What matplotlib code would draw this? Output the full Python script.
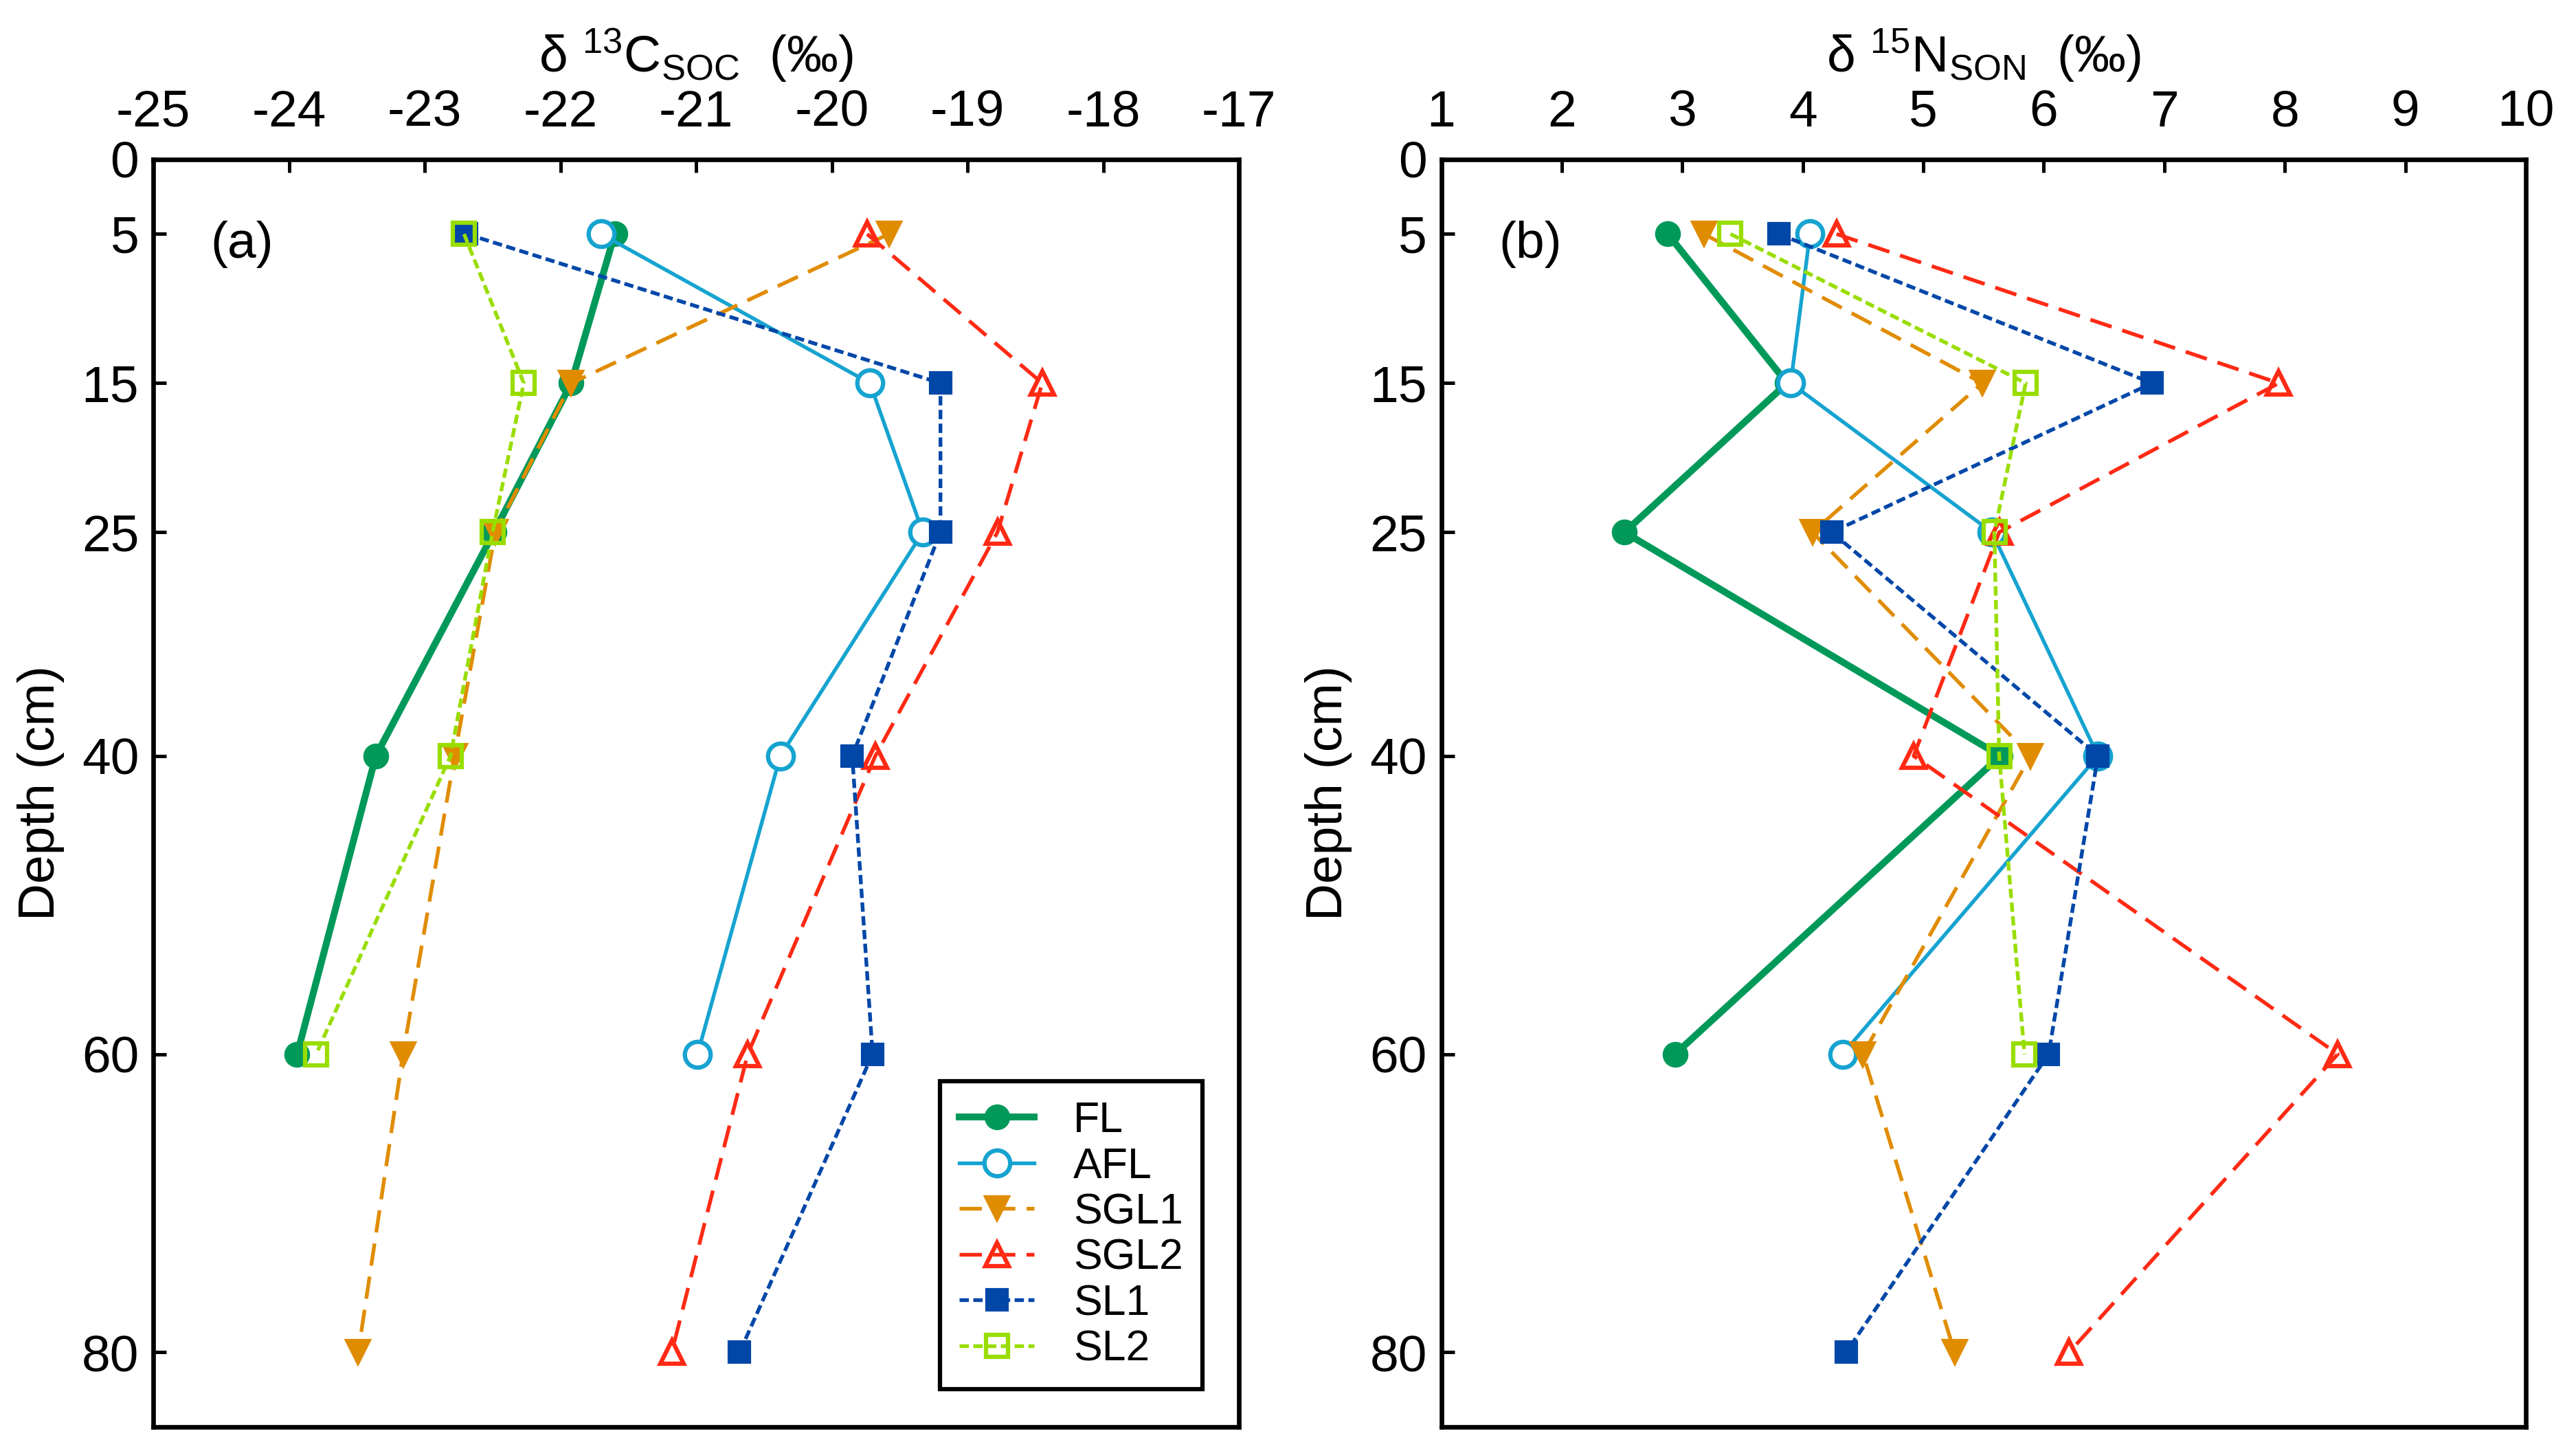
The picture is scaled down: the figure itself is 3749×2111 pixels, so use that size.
import numpy as np
from matplotlib import pyplot as plt
from matplotlib import font_manager

# depth of each sampling layer (cm)
depth = [5, 15, 25, 40, 60, 80]
depth_short = [5, 15, 25, 40, 60]

# (a) delta 13C of SOC (permil)
c_fl = [-21.60, -21.92, -22.49, -23.36, -23.94]
c_afl = [-21.70, -19.72, -19.33, -20.38, -20.99]
c_sgl1 = [-19.58, -21.92, -22.48, -22.78, -23.16, -23.49]
c_sgl2 = [-19.74, -18.45, -18.78, -19.68, -20.62, -21.18]
c_sl1 = [-22.69, -19.20, -19.20, -19.85, -19.70, -20.68]
c_sl2 = [-22.71, -22.27, -22.50, -22.81, -23.80]

# (b) delta 15N of SON (permil)
n_fl = [2.88, 3.87, 2.52, 5.64, 2.94]
n_afl = [4.06, 3.90, 5.57, 6.45, 4.33]
n_sgl1 = [3.18, 5.49, 4.08, 5.89, 4.50, 5.26]
n_sgl2 = [4.28, 7.95, 5.63, 4.92, 8.44, 6.21]
n_sl1 = [3.80, 6.90, 4.24, 6.45, 6.04, 4.36]
n_sl2 = [3.40, 5.85, 5.59, 5.63, 5.84]

names = ['FL', 'AFL', 'SGL1', 'SGL2', 'SL1', 'SL2']
yticks = [0, 5, 15, 25, 40, 60, 80]
xticks_a = [-25, -24, -23, -22, -21, -20, -19, -18, -17]
xticks_b = [1, 2, 3, 4, 5, 6, 7, 8, 9, 10]

installed = {f.name for f in font_manager.fontManager.ttflist}
NARROW = ['Liberation Sans Narrow', 'Liberation Sans', 'DejaVu Sans'] if 'Liberation Sans Narrow' in installed \
    else ['Liberation Sans', 'DejaVu Sans']
plt.rcParams['font.family'] = NARROW
plt.rcParams['mathtext.default'] = 'regular'
plt.rcParams['axes.unicode_minus'] = False

styles = [
    dict(color='#00995a', ls='-', lw=2.4, marker='o', ms=8, mfc='#00995a', mec='#00995a'),
    dict(color='#16a3d0', ls='-', lw=1.3, marker='o', ms=9, mfc='white', mec='#16a3d0', mew=1.5),
    dict(color='#e08c00', ls=(0, (6, 3)), lw=1.3, marker='v', ms=8, mfc='#e08c00', mec='#e08c00'),
    dict(color='#ff2a14', ls=(0, (6, 3)), lw=1.3, marker='^', ms=8, mfc='none', mec='#ff2a14', mew=1.5),
    dict(color='#0047a8', ls=(0, (2.5, 1.2)), lw=1.3, marker='s', ms=7, mfc='#0047a8', mec='#0047a8'),
    dict(color='#99dd00', ls=(0, (2.5, 1.2)), lw=1.3, marker='s', ms=7.5, mfc='none', mec='#99dd00', mew=1.5),
]

fig = plt.figure(figsize=(3749 / 300, 2111 / 300), dpi=300)
ax1 = fig.add_axes([0.0595, 0.0166, 0.4215, 0.8735])
ax2 = fig.add_axes([0.5595, 0.0166, 0.4210, 0.8735])


def setup(ax, xlim, xticks, title, letter):
    ax.set_xlim(*xlim)
    ax.set_ylim(85, 0)
    ax.set_xticks(xticks)
    ax.set_yticks(yticks)
    ax.xaxis.tick_top()
    ax.xaxis.set_label_position('top')
    ax.tick_params(axis='both', direction='in', length=4.5, width=1.2, labelsize=18)
    ax.tick_params(axis='x', pad=8)
    ax.tick_params(axis='y', pad=5)
    for s in ax.spines.values():
        s.set_linewidth(1.6)
    # hide tick marks sitting on the corners
    for t in ax.xaxis.get_major_ticks()[::len(xticks) - 1]:
        t.tick2line.set_visible(False)
        t.tick1line.set_visible(False)
    ax.yaxis.get_major_ticks()[0].tick1line.set_visible(False)
    ax.set_xlabel(title, fontsize=18, labelpad=6)
    ax.set_ylabel('Depth (cm)', fontsize=18, family=['Liberation Sans', 'DejaVu Sans'], labelpad=6)
    ax.text(0.053, 0.933, letter, transform=ax.transAxes, fontsize=18, va='center', ha='left')


c_data = [(c_fl, depth_short), (c_afl, depth_short), (c_sgl1, depth), (c_sgl2, depth),
          (c_sl1, depth), (c_sl2, depth_short)]
n_data = [(n_fl, depth_short), (n_afl, depth_short), (n_sgl1, depth), (n_sgl2, depth),
          (n_sl1, depth), (n_sl2, depth_short)]

for (x, y), st, nm in zip(c_data, styles, names):
    ax1.plot(x, y, label=nm, **st)
for (x, y), st, nm in zip(n_data, styles, names):
    ax2.plot(x, y, label=nm, **st)

setup(ax1, (-25, -17), xticks_a, 'δ $^{13}$C$_{SOC}$  (‰)', '(a)')
setup(ax2, (1, 10), xticks_b, 'δ $^{15}$N$_{SON}$  (‰)', '(b)')

leg = ax1.legend(loc='lower right', bbox_to_anchor=(0.966, 0.030), borderaxespad=0, fancybox=False,
                 framealpha=1, edgecolor='black',
                 prop={'family': ['Liberation Sans', 'DejaVu Sans'], 'size': 15},
                 handlelength=1.75, labelspacing=0.12, borderpad=0.45, handletextpad=0.9)
leg.get_frame().set_linewidth(1.5)

plt.savefig('out.png', dpi=300)
